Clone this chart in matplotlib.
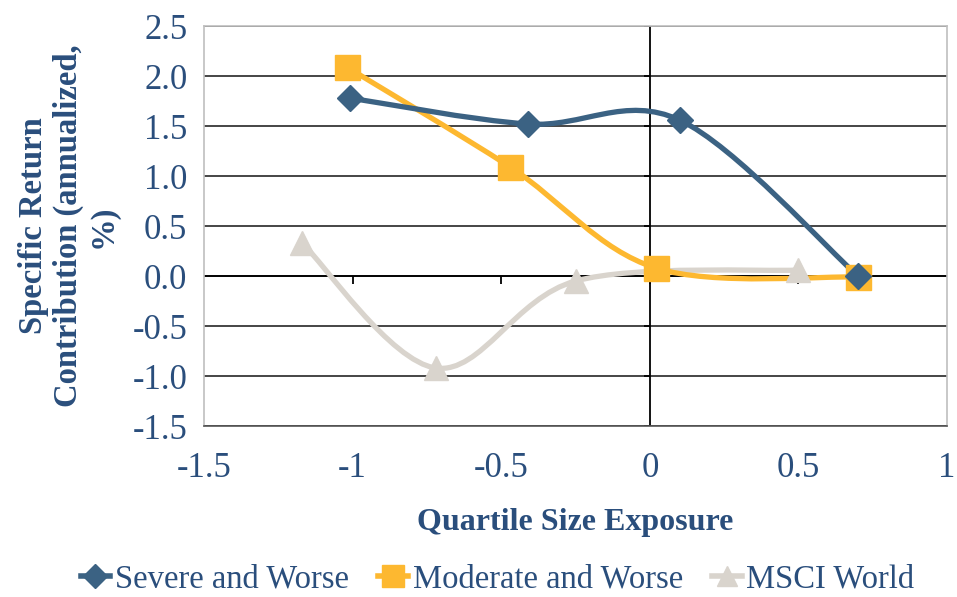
import numpy as np
import matplotlib.pyplot as plt
from matplotlib.path import Path
from matplotlib.patches import PathPatch
from matplotlib.lines import Line2D

# Datos
severe_x = [-1.01, -0.41, 0.10, 0.70]
severe_y = [1.78, 1.52, 1.56, 0.00]
moderate_x = [-1.02, -0.47, 0.02, 0.70]
moderate_y = [2.09, 1.09, 0.08, -0.01]
msci_x = [-1.17, -0.72, -0.25, 0.50]
msci_y = [0.33, -0.92, -0.05, 0.06]

xticks = [-1.5, -1, -0.5, 0, 0.5, 1]
xtick_labels = ['-1.5', '-1', '-0.5', '0', '0.5', '1']
yticks = [-1.5, -1.0, -0.5, 0.0, 0.5, 1.0, 1.5, 2.0, 2.5]

c_severe = '#3B6283'
c_moderate = '#FDB830'
c_msci = '#D9D4CD'
c_text = '#2A4E7C'


def smooth_path(xs, ys):
    # curva suave tipo Excel (Catmull-Rom con Bezier)
    p = np.column_stack([xs, ys])
    n = len(p)
    verts = [p[0]]
    codes = [Path.MOVETO]
    for i in range(n - 1):
        p0 = p[i - 1] if i > 0 else p[i]
        p1 = p[i]
        p2 = p[i + 1]
        p3 = p[i + 2] if i + 2 < n else p[i + 1]
        c1 = p1 + (p2 - p0) / 6
        c2 = p2 - (p3 - p1) / 6
        verts += [c1, c2, p2]
        codes += [Path.CURVE4] * 3
    return Path(verts, codes)


plt.rcParams['font.family'] = ['Liberation Serif', 'DejaVu Serif']

fig = plt.figure(figsize=(9.57, 5.97), dpi=100)
ax = fig.add_axes([0.2132, 0.2864, 0.7764, 0.67])

ax.set_xlim(-1.5, 1)
ax.set_ylim(-1.5, 2.5)

# lineas de cuadricula
for y in yticks:
    ax.axhline(y, color='#262626', linewidth=1.2, zorder=1)
ax.axvline(0, color='black', linewidth=1.3, zorder=1)
ax.axhline(0, color='black', linewidth=1.3, zorder=1)
# marcas del eje x en y=0
ax.vlines(xticks[1:-1], -0.08, 0, color='black', linewidth=1.3, zorder=1)
ax.hlines(yticks, -0.02, 0, color='black', linewidth=1.3, zorder=1)

series = [
    (msci_x, msci_y, c_msci, '^', 17, 'MSCI World'),
    (moderate_x, moderate_y, c_moderate, 's', 18, 'Moderate and Worse'),
    (severe_x, severe_y, c_severe, 'D', 13, 'Severe and Worse'),
]
for xs, ys, col, mk, ms, lab in series:
    ax.add_patch(PathPatch(smooth_path(xs, ys), facecolor='none',
                           edgecolor=col, linewidth=3.8, zorder=3,
                           capstyle='round', joinstyle='round'))
    ax.plot(xs, ys, linestyle='none', marker=mk, markersize=ms,
            color=col, zorder=4)

for s in ax.spines.values():
    s.set_color('#bfbfbf')
    s.set_linewidth(1.2)
ax.spines['bottom'].set_color('#555555')

ax.set_xticks(xticks)
ax.set_xticklabels(xtick_labels)
ax.set_yticks(yticks)
ax.set_yticklabels([f'{v:.1f}' for v in yticks])
ax.tick_params(axis='both', length=0, labelsize=25, colors=c_text)
ax.tick_params(axis='y', pad=12)
ax.tick_params(axis='x', pad=19)

ax.set_xlabel('Quartile Size Exposure', fontsize=23, fontweight='bold',
              color=c_text, labelpad=16)
ax.set_ylabel('Specific Return\nContribution (annualized,\n%)', fontsize=23.5,
              fontweight='bold', color=c_text, labelpad=10, linespacing=1.15)

handles = [
    Line2D([], [], color=c_severe, marker='D', markersize=12, linewidth=4),
    Line2D([], [], color=c_moderate, marker='s', markersize=16, linewidth=4),
    Line2D([], [], color=c_msci, marker='^', markersize=15, linewidth=4),
]
leg = fig.legend(handles, ['Severe and Worse', 'Moderate and Worse', 'MSCI World'],
                 loc='center', bbox_to_anchor=(0.52, 0.03), ncol=3,
                 frameon=False, fontsize=23.5, handlelength=0.9,
                 handletextpad=0.15, columnspacing=0.9, borderpad=0.1)
for t in leg.get_texts():
    t.set_color(c_text)

fig.savefig('out.png', dpi=100)
